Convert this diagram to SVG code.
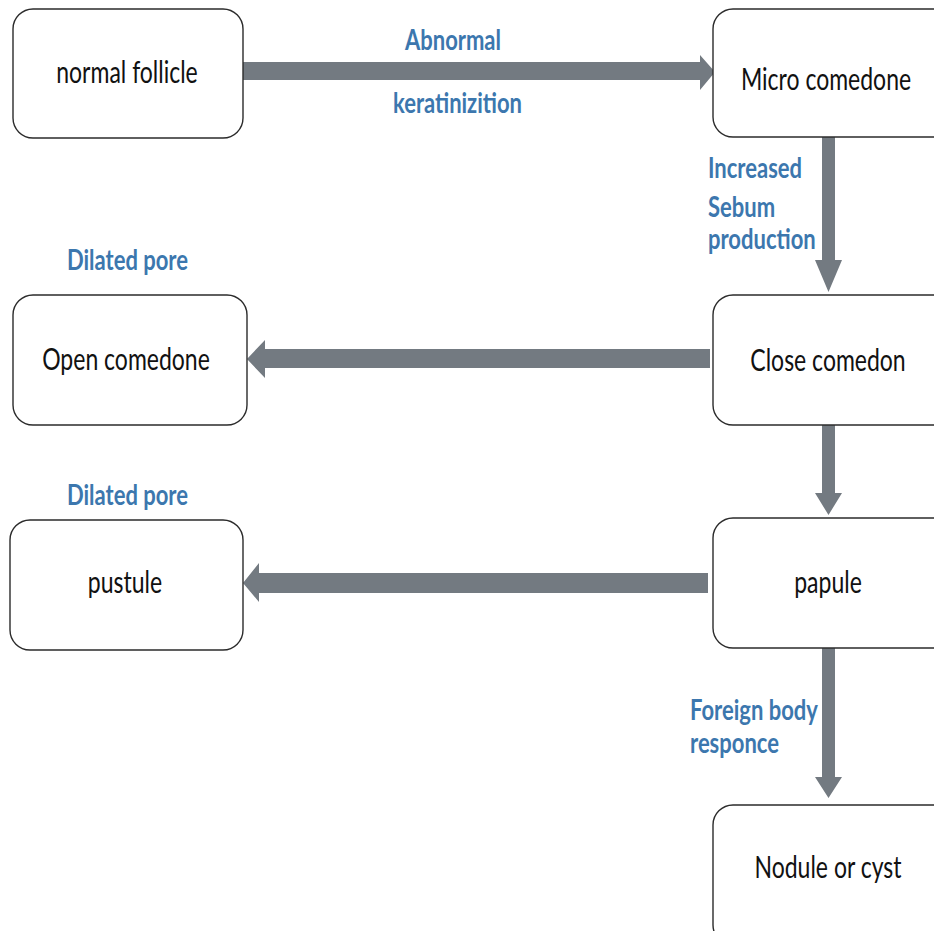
<svg xmlns="http://www.w3.org/2000/svg" width="934" height="931" viewBox="0 0 934 931">
<style>
.box{fill:#fff;stroke:#2b2b2b;stroke-width:1.4}
.nt{font-family:Lato,"Open Sans","Liberation Sans",sans-serif;font-size:23px;fill:#111;text-anchor:middle}
.lb{font-family:Lato,"Open Sans","Liberation Sans",sans-serif;font-size:22px;font-weight:bold;fill:#3c77ae}
.ar{fill:#737a81}
</style>
<rect width="934" height="931" fill="#fff"/>
<g id="connectors">
<polygon class="ar" points="243,62 700,62 700,55 715,72 700,90 700,80 243,80"/>
<polygon class="ar" points="822,137 835,137 835,260 842,260 828.5,292 815,260 822,260"/>
<polygon class="ar" points="710,349 265,349 265,340 247,359 265,378 265,368 710,368"/>
<polygon class="ar" points="822,425 835,425 835,493 842,493 828.5,515 815,493 822,493"/>
<polygon class="ar" points="708,573 259,573 259,563 243,583 259,602 259,593 708,593"/>
<polygon class="ar" points="822,648 835,648 835,777 842,777 828.5,798 815,777 822,777"/>
</g>
<g id="label-abnormal">
<text class="lb" transform="matrix(1,0,0,1.3,405,50)">Abnormal</text>
<text class="lb" transform="matrix(1,0,0,1.3,393,113)">keratinizition</text>
</g>
<g id="label-sebum">
<text class="lb" transform="matrix(1,0,0,1.3,708,178)">Increased</text>
<text class="lb" transform="matrix(1,0,0,1.3,708,217)">Sebum</text>
<text class="lb" transform="matrix(1,0,0,1.3,708,249)">production</text>
</g>
<g id="label-dilated1">
<text class="lb" transform="matrix(1,0,0,1.3,67,270)">Dilated pore</text>
</g>
<g id="label-dilated2">
<text class="lb" transform="matrix(1,0,0,1.3,67,505)">Dilated pore</text>
</g>
<g id="label-foreign">
<text class="lb" transform="matrix(1,0,0,1.3,690,720)">Foreign body</text>
<text class="lb" transform="matrix(1,0,0,1.3,690,753)">responce</text>
</g>
<g id="node-normal-follicle">
<rect class="box" x="13" y="9" width="230" height="129" rx="20"/>
<text class="nt" transform="matrix(1,0,0,1.35,127,83)">normal follicle</text>
</g>
<g id="node-micro-comedone">
<rect class="box" x="713" y="9" width="240" height="128" rx="20"/>
<text class="nt" transform="matrix(1,0,0,1.35,826,90)">Micro comedone</text>
</g>
<g id="node-open-comedone">
<rect class="box" x="13" y="295" width="234" height="130" rx="20"/>
<text class="nt" transform="matrix(1,0,0,1.35,126,370)">Open comedone</text>
</g>
<g id="node-close-comedon">
<rect class="box" x="713" y="295" width="240" height="130" rx="20"/>
<text class="nt" transform="matrix(1,0,0,1.35,828,371)">Close comedon</text>
</g>
<g id="node-pustule">
<rect class="box" x="10" y="520" width="233" height="130" rx="20"/>
<text class="nt" transform="matrix(1,0,0,1.35,125,593)">pustule</text>
</g>
<g id="node-papule">
<rect class="box" x="713" y="518" width="240" height="130" rx="20"/>
<text class="nt" transform="matrix(1,0,0,1.35,828,593)">papule</text>
</g>
<g id="node-nodule">
<rect class="box" x="713" y="805" width="240" height="140" rx="20"/>
<text class="nt" transform="matrix(1,0,0,1.35,828,878)">Nodule or cyst</text>
</g>
</svg>
